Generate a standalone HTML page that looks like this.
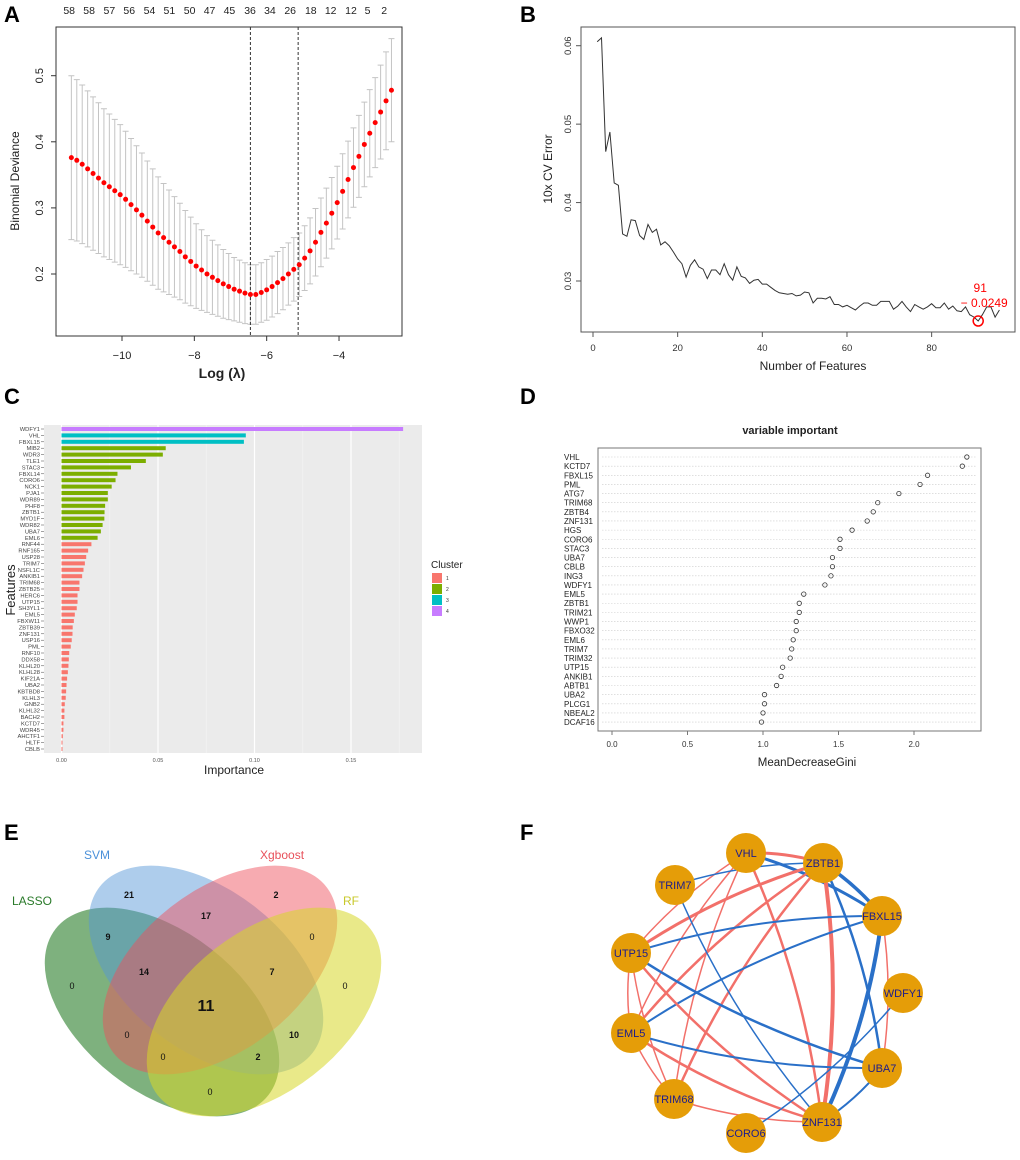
<!DOCTYPE html>
<html><head><meta charset="utf-8">
<style>
html,body{margin:0;padding:0;background:#fff;}
svg{display:block;font-family:"Liberation Sans",Arial,sans-serif;}
</style></head>
<body>
<svg id="fig" width="1020" height="1160" viewBox="0 0 1020 1160" xmlns="http://www.w3.org/2000/svg">
<g font-weight="bold" font-size="22" fill="#000">
<text x="4" y="22">A</text>
<text x="520" y="22">B</text>
<text x="4" y="404">C</text>
<text x="520" y="404">D</text>
<text x="4" y="840">E</text>
<text x="520" y="840">F</text>
</g>
<g id="pA"></g>
<g id="pB"></g>
<g id="pC"></g>
<g id="pD"></g>
<g id="pE"></g>
<g id="pF"></g>
</svg>
<script>
// ---------- Panel A data ----------
const lassoLogLambda = [-11.40,-11.25,-11.10,-10.95,-10.80,-10.65,-10.50,-10.35,-10.20,-10.05,-9.90,-9.75,-9.60,-9.45,-9.30,-9.15,-9.00,-8.85,-8.70,-8.55,-8.40,-8.25,-8.10,-7.95,-7.80,-7.65,-7.50,-7.35,-7.20,-7.05,-6.90,-6.75,-6.60,-6.45,-6.30,-6.15,-6.00,-5.85,-5.70,-5.55,-5.40,-5.25,-5.10,-4.95,-4.80,-4.65,-4.50,-4.35,-4.20,-4.05,-3.90,-3.75,-3.60,-3.45,-3.30,-3.15,-3.00,-2.85,-2.70,-2.55];
const lassoMean = [.376,.372,.366,.359,.352,.345,.338,.332,.326,.320,.313,.305,.297,.289,.280,.271,.262,.255,.248,.241,.234,.226,.219,.212,.206,.200,.195,.190,.185,.181,.177,.174,.171,.169,.169,.172,.176,.181,.187,.193,.200,.207,.214,.224,.235,.248,.263,.277,.292,.308,.325,.343,.361,.378,.396,.413,.429,.445,.462,.478];
const lassoSE = [.124,.122,.120,.118,.116,.114,.112,.110,.108,.106,.103,.100,.097,.094,.091,.088,.085,.082,.079,.076,.073,.070,.067,.064,.061,.058,.056,.054,.052,.050,.048,.047,.046,.045,.045,.045,.046,.046,.047,.047,.047,.048,.048,.049,.050,.051,.052,.053,.054,.055,.057,.058,.060,.062,.064,.066,.068,.071,.074,.078];
const lassoTopLambda = [-11.46,-10.91,-10.35,-9.80,-9.24,-8.69,-8.13,-7.58,-7.03,-6.46,-5.91,-5.35,-4.78,-4.23,-3.67,-3.21,-2.75];
const lassoTopCounts = ["58","58","57","56","54","51","50","47","45","36","34","26","18","12","12","5","2"];
const lassoXTicks = [-10,-8,-6,-4];
const lassoYTicks = [0.2,0.3,0.4,0.5];
const lassoVLines = [-6.45,-5.13];

// ---------- Panel B data ----------
const rfeErrors = [0.0605,0.0610,0.0465,0.0490,0.0425,0.0422,0.0360,0.0357,0.0378,0.0377,0.0358,0.0353,0.0372,0.0362,0.0366,0.0346,0.0350,0.0345,0.0337,0.0328,0.0322,0.0305,0.0320,0.0327,0.0318,0.0315,0.0303,0.0314,0.0314,0.0308,0.0322,0.0308,0.0301,0.0318,0.0306,0.0304,0.0297,0.0301,0.0302,0.0296,0.0296,0.0292,0.0288,0.0285,0.0284,0.0283,0.0284,0.0281,0.0282,0.0286,0.0285,0.0272,0.0278,0.0278,0.0277,0.0280,0.0270,0.0270,0.0267,0.0269,0.0266,0.0263,0.0268,0.0272,0.0272,0.0269,0.0269,0.0274,0.0274,0.0274,0.0264,0.0268,0.0274,0.0267,0.0261,0.0270,0.0267,0.0264,0.0267,0.0271,0.0266,0.0266,0.0272,0.0264,0.0268,0.0262,0.0261,0.0267,0.0257,0.0254,0.0249,0.0257,0.0267,0.0267,0.0254,0.0263];
const rfeBestN = 91;
const rfeBestErr = 0.0249;
const rfeXTicks = [0,20,40,60,80];
const rfeYTicks = [0.03,0.04,0.05,0.06];

// ---------- Panel C data ----------
const impFeatures = ["WDFY1","VHL","FBXL15","MIB2","WDR3","TLE1","STAC3","FBXL14","CORO6","NCK1","PJA1","WDR89","PHF8","ZBTB1","MYD1F","WDR82","UBA7","EML6","RNF44","RNF165","USP28","TRIM7","NSFL1C","ANKIB1","TRIM68","ZBTB25","HERC6","UTP15","SH3YL1","EML5","FBXW11","ZBTB39","ZNF131","USP16","PML","RNF10","DDX58","KLHL20","KLHL28","KIF21A","UBA2","KBTBD8","KLHL3","GNB2","KLHL32","BACH2","KCTD7","WDR45","AHCTF1","HLTF","CBLB"];
const impValues = [0.177,0.0955,0.0945,0.054,0.0525,0.0437,0.036,0.029,0.028,0.026,0.024,0.024,0.0226,0.0223,0.0222,0.0213,0.0204,0.0187,0.0155,0.0138,0.0128,0.0121,0.0114,0.0107,0.0093,0.0093,0.0083,0.0083,0.0079,0.0069,0.0064,0.0058,0.0057,0.0053,0.0048,0.0040,0.0038,0.0036,0.0033,0.0029,0.0026,0.0024,0.0022,0.0017,0.0015,0.0015,0.0010,0.0010,0.0007,0.0005,0.0005];
const impClusters = [4,3,3,2,2,2,2,2,2,2,2,2,2,2,2,2,2,2,1,1,1,1,1,1,1,1,1,1,1,1,1,1,1,1,1,1,1,1,1,1,1,1,1,1,1,1,1,1,1,1,1];
const impXTicks = [0,0.05,0.10,0.15];
const impXTickLabels = ["0.00","0.05","0.10","0.15"];
const clusterNames = ["1","2","3","4"];

// ---------- Panel D data ----------
const giniFeatures = ["VHL","KCTD7","FBXL15","PML","ATG7","TRIM68","ZBTB4","ZNF131","HGS","CORO6","STAC3","UBA7","CBLB","ING3","WDFY1","EML5","ZBTB1","TRIM21","WWP1","FBXO32","EML6","TRIM7","TRIM32","UTP15","ANKIB1","ABTB1","UBA2","PLCG1","NBEAL2","DCAF16"];
const giniValues = [2.35,2.32,2.09,2.04,1.90,1.76,1.73,1.69,1.59,1.51,1.51,1.46,1.46,1.45,1.41,1.27,1.24,1.24,1.22,1.22,1.20,1.19,1.18,1.13,1.12,1.09,1.01,1.01,1.00,0.99];
const giniXTicks = [0,0.5,1.0,1.5,2.0];
const giniXTickLabels = ["0.0","0.5","1.0","1.5","2.0"];

// ---------- Panel E data ----------
const vennSets = ["LASSO","SVM","Xgboost","RF"];
const vennCounts = ["21","2","9","17","0","0","14","7","0","11","0","10","0","2","0"];

// ---------- Panel F data ----------
const netNodes = ["VHL","ZBTB1","TRIM7","FBXL15","UTP15","WDFY1","EML5","UBA7","TRIM68","CORO6","ZNF131"];
const netEdgeFrom = ["VHL","VHL","VHL","VHL","VHL","VHL","ZBTB1","ZBTB1","ZBTB1","ZBTB1","ZBTB1","ZBTB1","ZBTB1","TRIM7","FBXL15","FBXL15","FBXL15","FBXL15","UTP15","UTP15","UTP15","UTP15","EML5","EML5","EML5","TRIM68","WDFY1","UBA7"];
const netEdgeTo   = ["ZBTB1","FBXL15","UTP15","EML5","TRIM68","ZNF131","TRIM7","FBXL15","UTP15","EML5","TRIM68","ZNF131","UBA7","ZNF131","UTP15","EML5","ZNF131","UBA7","EML5","TRIM68","ZNF131","UBA7","TRIM68","ZNF131","UBA7","ZNF131","CORO6","ZNF131"];
const netEdgeSign = [1,-1,1,1,1,1,-1,-1,1,1,1,1,-1,-1,-1,-1,-1,1,1,1,1,-1,1,1,-1,1,-1,-1];
const netEdgeWeight = [3,3,1.5,1.5,1.5,2.5,1.5,3.5,3,2.5,2.5,4,2.5,1.5,2,2,4,1.5,1.5,1.5,2.5,2.5,1.5,2.5,2,1.5,1.5,2];

const NS = "http://www.w3.org/2000/svg";
function mk(parent, tag, attrs, text){
  const e = document.createElementNS(NS, tag);
  for (const k in attrs) e.setAttribute(k, attrs[k]);
  if (text !== undefined) e.textContent = text;
  parent.appendChild(e);
  return e;
}

// ================= Panel A =================
(function(){
  const g = document.getElementById('pA');
  const x = l => 122 + (l + 10) * 36.17;
  const y = v => 274 - (v - 0.2) * 661;
  let el;
  el = mk(g,'rect',{x:56,y:27,width:346,height:309,fill:'none',stroke:'#333','stroke-width':1});
  
  
  lassoSE.forEach((s,i)=>{
    const xx = x(lassoLogLambda[i]), up = y(lassoMean[i]+s), lo = y(lassoMean[i]-s);
    const b = mk(g,'path',{d:`M${xx},${up}V${lo}M${xx-3},${up}H${xx+3}M${xx-3},${lo}H${xx+3}`,stroke:'#c4c4c4','stroke-width':1,fill:'none'});
    
    
  });
  lassoVLines.forEach(l=>{
    const v = mk(g,'line',{x1:x(l),x2:x(l),y1:27,y2:336,stroke:'#333','stroke-dasharray':'3,2','stroke-width':1});
    
    
  });
  lassoMean.forEach((m,i)=>{
    const c = mk(g,'circle',{cx:x(lassoLogLambda[i]),cy:y(m),r:2.5,fill:'#f00'});
    
    
  });
  lassoXTicks.forEach(t=>{
    const tk = mk(g,'line',{x1:x(t),x2:x(t),y1:336,y2:341,stroke:'#333'});
    
    
    const tl = mk(g,'text',{x:x(t),y:359,'font-size':11,'text-anchor':'middle',fill:'#222'},'\u2212'+Math.abs(t));
    
    
  });
  lassoYTicks.forEach(t=>{
    const tk = mk(g,'line',{x1:51,x2:56,y1:y(t),y2:y(t),stroke:'#333'});
    
    
    const tl = mk(g,'text',{x:0,y:0,'font-size':11,'text-anchor':'middle',fill:'#222',transform:`translate(43,${y(t)}) rotate(-90)`},String(t));
    
    
  });
  lassoTopCounts.forEach((c,i)=>{
    const tl = mk(g,'text',{x:x(lassoTopLambda[i]),y:14,'font-size':10.5,'text-anchor':'middle',fill:'#222'},c);
    
    
  });
  el = mk(g,'text',{x:222,y:378,'font-size':14,'font-weight':'bold','text-anchor':'middle',fill:'#222'},'Log (\u03bb)');
  
  
  el = mk(g,'text',{x:0,y:0,'font-size':12,'text-anchor':'middle',fill:'#222',transform:'translate(19,181) rotate(-90)'},'Binomial Deviance');
  
  
})();

// ================= Panel B =================
(function(){
  const g = document.getElementById('pB');
  const x = n => 593 + n * 4.233;
  const y = v => 281 - (v - 0.03) * 7843;
  let el;
  el = mk(g,'rect',{x:581,y:27,width:434,height:305,fill:'none',stroke:'#555','stroke-width':1});
  
  
  const d = rfeErrors.map((v,i)=>(i?'L':'M')+x(i+1).toFixed(1)+','+y(v).toFixed(1)).join('');
  el = mk(g,'path',{d:d,fill:'none',stroke:'#333','stroke-width':1});
  
  
  el = mk(g,'circle',{cx:x(rfeBestN),cy:y(rfeBestErr),r:5,fill:'none',stroke:'#f00','stroke-width':1.5});
  
  
  el = mk(g,'text',{x:x(rfeBestN)+2,y:y(rfeBestErr)-29,'font-size':12,'text-anchor':'middle',fill:'#f00'},String(rfeBestN));
  
  
  el = mk(g,'text',{x:x(rfeBestN)+6,y:y(rfeBestErr)-14,'font-size':12,'text-anchor':'middle',fill:'#f00'},'\u2212 '+rfeBestErr);
  
  
  rfeXTicks.forEach(t=>{
    const tk = mk(g,'line',{x1:x(t),x2:x(t),y1:332,y2:337,stroke:'#555'});
    
    
    const tl = mk(g,'text',{x:x(t),y:351,'font-size':9.5,'text-anchor':'middle',fill:'#333'},String(t));
    
    
  });
  rfeYTicks.forEach(t=>{
    const tk = mk(g,'line',{x1:576,x2:581,y1:y(t),y2:y(t),stroke:'#555'});
    
    
    const tl = mk(g,'text',{x:0,y:0,'font-size':9.5,'text-anchor':'middle',fill:'#333',transform:`translate(571,${y(t)}) rotate(-90)`},t.toFixed(2));
    
    
  });
  el = mk(g,'text',{x:813,y:370,'font-size':12,'text-anchor':'middle',fill:'#222'},'Number of Features');
  
  
  el = mk(g,'text',{x:0,y:0,'font-size':12,'text-anchor':'middle',fill:'#222',transform:'translate(552,169) rotate(-90)'},'10x CV Error');
  
  
})();

// ================= Panel C =================
(function(){
  const g = document.getElementById('pC');
  const x = v => 61.5 + v * 1930;
  const y = i => 429 + i * 6.4;
  const colors = {1:'#f8766d',2:'#7cae00',3:'#00bfc4',4:'#c77cff'};
  let el;
  el = mk(g,'rect',{x:44,y:425,width:378,height:328,fill:'#ebebeb'});
  
  
  [0.025,0.075,0.125,0.175].forEach(t=>{
    const m = mk(g,'line',{x1:x(t),x2:x(t),y1:425,y2:753,stroke:'#f4f4f4','stroke-width':0.6});
    
    
  });
  impXTicks.forEach((t,i)=>{
    const gl = mk(g,'line',{x1:x(t),x2:x(t),y1:425,y2:753,stroke:'#fff','stroke-width':1.2});
    
    
    const tl = mk(g,'text',{x:x(t),y:762,'font-size':5.5,'text-anchor':'middle',fill:'#555'},impXTickLabels[i]);
    
    
  });
  impFeatures.forEach((f,i)=>{
    const b = mk(g,'rect',{x:x(0),y:y(i)-2,width:Math.max(0.6,x(impValues[i])-x(0)),height:4,fill:colors[impClusters[i]]});
    
    
    const t = mk(g,'text',{x:40,y:y(i)+2,'font-size':5.8,'text-anchor':'end',fill:'#444'},f);
    
    
    const tk = mk(g,'line',{x1:41,x2:44,y1:y(i),y2:y(i),stroke:'#444','stroke-width':0.5});
    
    
  });
  el = mk(g,'text',{x:234,y:774,'font-size':12,'text-anchor':'middle',fill:'#222'},'Importance');
  
  
  el = mk(g,'text',{x:0,y:0,'font-size':13,'text-anchor':'middle',fill:'#222',transform:'translate(15,590) rotate(-90)'},'Features');
  
  
  el = mk(g,'text',{x:431,y:568,'font-size':10,fill:'#222'},'Cluster');
  
  
  clusterNames.forEach((c,i)=>{
    const s = mk(g,'rect',{x:432,y:573+i*11,width:10,height:10,fill:colors[i+1]});
    
    
    const t = mk(g,'text',{x:446,y:580+i*11,'font-size':5,fill:'#333'},c);
    
    
  });
})();

// ================= Panel D =================
(function(){
  const g = document.getElementById('pD');
  const x = v => 612 + v * 151;
  const y = i => 457 + i * 9.14;
  let el;
  el = mk(g,'text',{x:790,y:434,'font-size':11,'font-weight':'bold','text-anchor':'middle',fill:'#222'},'variable important');
  
  
  el = mk(g,'rect',{x:598,y:448,width:383,height:283,fill:'none',stroke:'#777','stroke-width':1});
  
  
  giniFeatures.forEach((f,i)=>{
    const gl = mk(g,'line',{x1:602,x2:977,y1:y(i),y2:y(i),stroke:'#ccc','stroke-width':0.6,'stroke-dasharray':'1.5,1.5'});
    
    
    const c = mk(g,'circle',{cx:x(giniValues[i]),cy:y(i),r:2.2,fill:'none',stroke:'#333','stroke-width':0.8});
    
    
    const t = mk(g,'text',{x:564,y:y(i)+3,'font-size':8,fill:'#222'},f);
    
    
  });
  giniXTicks.forEach((t,i)=>{
    const tk = mk(g,'line',{x1:x(t),x2:x(t),y1:731,y2:735,stroke:'#777'});
    
    
    const tl = mk(g,'text',{x:x(t),y:747,'font-size':8,'text-anchor':'middle',fill:'#333'},giniXTickLabels[i]);
    
    
  });
  el = mk(g,'text',{x:807,y:766,'font-size':11.5,'text-anchor':'middle',fill:'#222'},'MeanDecreaseGini');
  
  
})();

// ================= Panel E =================
(function(){
  const g = document.getElementById('pE');
  const ell = [
    {cx:162,cy:1012,rot:38,fill:'rgba(40,125,40,0.6)'},
    {cx:206,cy:970,rot:38,fill:'rgba(85,150,215,0.48)'},
    {cx:220,cy:970,rot:-38,fill:'rgba(238,80,92,0.48)'},
    {cx:264,cy:1012,rot:-38,fill:'rgba(215,215,40,0.55)'}
  ];
  ell.forEach((e,i)=>{
    const el = mk(g,'ellipse',{cx:0,cy:0,rx:135,ry:80,fill:e.fill,transform:`translate(${e.cx},${e.cy}) rotate(${e.rot})`});
    
    
  });
  const lab = [{x:12,y:905,c:'#2a7a2a'},{x:84,y:859,c:'#4a90d9'},{x:260,y:859,c:'#e8505a'},{x:343,y:905,c:'#c8c82a'}];
  vennSets.forEach((s,i)=>{
    const t = mk(g,'text',{x:lab[i].x,y:lab[i].y,'font-size':12,fill:lab[i].c},s);
    
    
  });
  const pos = [[129,898],[276,898],[108,940],[206,919],[312,940],[72,989],[144,975],[272,975],[345,989],[206,1011],[127,1038],[294,1038],[163,1060],[258,1060],[210,1095]];
  vennCounts.forEach((c,i)=>{
    const big = i===9;
    const t = mk(g,'text',{x:pos[i][0],y:pos[i][1],'font-size':big?16:9,'font-weight':(c==='0'?'normal':'bold'),'text-anchor':'middle',fill:'#111'},c);
    
    
  });
})();

// ================= Panel F =================
(function(){
  const g = document.getElementById('pF');
  const P = {VHL:[746,853],ZBTB1:[823,863],TRIM7:[675,885],FBXL15:[882,916],UTP15:[631,953],WDFY1:[903,993],EML5:[631,1033],UBA7:[882,1068],TRIM68:[674,1099],CORO6:[746,1133],ZNF131:[822,1122]};
  const C = [770,995];
  const eg = mk(g,'g',{});
  
  
  netEdgeFrom.forEach((a,i)=>{
    const p = P[a], q = P[netEdgeTo[i]];
    const mx=(p[0]+q[0])/2, my=(p[1]+q[1])/2;
    let dx = mx-C[0], dy = my-C[1]; const L=Math.hypot(dx,dy)||1;
    const len = Math.hypot(q[0]-p[0],q[1]-p[1]);
    const k = 0.08*len;
    const cx = mx + dx/L*k, cy = my + dy/L*k;
    const e = mk(eg,'path',{d:`M${p[0]},${p[1]}Q${cx},${cy} ${q[0]},${q[1]}`,fill:'none',stroke:netEdgeSign[i]>0?'#f2706a':'#2a70c8','stroke-width':netEdgeWeight[i]});
    
    
  });
  netNodes.forEach(n=>{
    const c = mk(g,'circle',{cx:P[n][0],cy:P[n][1],r:20,fill:'#e59d08'});
    
    
    const t = mk(g,'text',{x:P[n][0],y:P[n][1]+4,'font-size':11,'text-anchor':'middle',fill:'#1c1c8c'},n);
    
    
  });
})();
</script>
</body></html>
